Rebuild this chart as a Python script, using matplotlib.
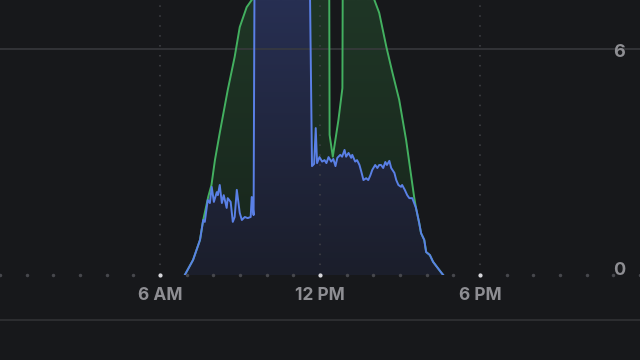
import numpy as np
import matplotlib
matplotlib.use('Agg')
import matplotlib.pyplot as plt
from matplotlib.patches import Polygon
from matplotlib.lines import Line2D
from matplotlib.colors import LinearSegmentedColormap

## data (hours of day, kW)
blue_hours = [6.93, 7.24, 7.50, 7.62, 7.68, 7.79, 7.87, 7.94, 8.02, 8.13, 8.17, 8.24, 8.32, 8.39,
              8.50, 8.54, 8.65, 8.73, 8.80, 8.88, 8.99, 9.07, 9.18, 9.29, 9.40, 9.44, 9.51,
              9.55, 10.2, 10.9, 11.60,
              11.70, 11.78, 11.84, 11.89, 11.98, 12.08, 12.17, 12.24, 12.32, 12.42, 12.50, 12.58,
              12.65, 12.76, 12.83, 12.92, 12.98, 13.07, 13.17, 13.21, 13.32, 13.39, 13.48, 13.55,
              13.63, 13.73, 13.81, 13.89, 13.96, 14.07, 14.15, 14.22, 14.29, 14.37, 14.45, 14.51,
              14.60, 14.67, 14.79, 14.86, 14.94, 15.04, 15.08, 15.18, 15.27, 15.35, 15.46, 15.60,
              15.72, 15.79, 15.91, 15.98, 16.12, 16.24, 16.39, 16.53, 16.62]
blue_values = [0.0, 0.40, 0.93, 1.46, 1.41, 1.99, 1.91, 2.34, 1.94, 2.20, 2.12, 2.39, 1.91, 2.12,
               1.78, 2.04, 1.94, 1.41, 1.54, 2.26, 1.65, 1.46, 1.54, 1.51, 1.54, 2.07, 1.59,
               9.0, 9.2, 9.1, 9.0,
               2.89, 2.95, 3.90, 2.97, 3.13, 3.01, 3.05, 2.97, 3.13, 3.01, 3.08, 2.89,
               3.11, 3.19, 3.14, 3.32, 3.14, 3.24, 3.11, 3.19, 3.01, 3.05, 2.92, 2.74,
               2.52, 2.57, 2.52, 2.65, 2.79, 2.92, 2.84, 2.92, 2.92, 2.84, 3.00, 2.92,
               3.03, 2.84, 2.71, 2.52, 2.39, 2.34, 2.39, 2.26, 2.12, 2.04, 2.04, 1.78,
               1.38, 1.11, 0.93, 0.61, 0.53, 0.35, 0.21, 0.08, 0.0]

green_hours = [6.93, 7.24, 7.50, 7.62, 7.81, 7.93, 8.06, 8.24, 8.54, 8.80, 8.99, 9.25, 9.44,
               9.8, 10.5, 11.2, 12.0, 12.34, 12.36, 12.48, 12.69, 12.84, 12.86, 13.4, 13.8,
               14.04, 14.22, 14.49, 14.71, 14.97, 15.23, 15.53, 15.60,
               15.72, 15.79, 15.91, 15.98, 16.12, 16.24, 16.39, 16.53, 16.62]
green_values = [0.0, 0.40, 0.93, 1.46, 2.08, 2.39, 3.05, 3.77, 4.91, 5.79, 6.58, 7.11, 7.30,
                8.0, 8.9, 9.4, 9.6, 9.6, 3.72, 3.14, 4.11, 4.96, 9.4, 9.0, 8.0,
                7.30, 6.96, 6.05, 5.39, 4.65, 3.58, 2.07, 1.78,
                1.38, 1.11, 0.93, 0.61, 0.53, 0.35, 0.21, 0.08, 0.0]

tick_hours = [6, 12, 18]
tick_labels = ['6 AM', '12 PM', '6 PM']
y_labels = [0, 6]

bg = '#17181b'
ytop = 7.30

fig = plt.figure(figsize=(6.4, 3.6), dpi=100, facecolor=bg)
ax = fig.add_axes([0, 85 / 360, 1, 275 / 360])
ax.set_facecolor(bg)
for s in ax.spines.values():
    s.set_visible(False)
ax.set_xticks([])
ax.set_yticks([])


def gradient_fill(x, y, bottom, top, z):
    pts = np.column_stack([np.r_[x[0], x, x[-1]], np.r_[0, y, 0]])
    patch = Polygon(pts, closed=True, facecolor='none', edgecolor='none')
    ax.add_patch(patch)
    cmap = LinearSegmentedColormap.from_list('g', [bottom, top])
    grad = np.linspace(0, 1, 256).reshape(-1, 1)
    img = ax.imshow(grad, extent=[0, 24, 0, ytop], aspect='auto', origin='lower',
                    cmap=cmap, zorder=z, interpolation='bilinear')
    img.set_clip_path(patch)


gradient_fill(green_hours, green_values, '#18251c', '#1f3626', 1)
gradient_fill(blue_hours, blue_values, '#1b1e2b', '#272f52', 2)

# grid
ax.axhline(6, color='#3a3b3f', lw=1.1, zorder=3)
for h in tick_hours:
    ax.axvline(h, color='#414247', lw=1.1, ls=(0, (1, 5.5)), zorder=3)

ax.plot(green_hours, green_values, color='#43b060', lw=1.4, zorder=4, solid_joinstyle='round')
ax.plot(blue_hours, blue_values, color='#5a80e6', lw=1.4, zorder=5, solid_joinstyle='round')

# baseline dots
hrs = [h for h in range(0, 25) if h not in tick_hours]
ax.plot(hrs, [0] * len(hrs), ls='none', marker='o', ms=1.5, color='#46474c', zorder=6, clip_on=False)
ax.plot(tick_hours, [0] * 3, ls='none', marker='o', ms=2.0, color='#d8d8dc', zorder=6, clip_on=False)

ax.set_xlim(0, 24)
ax.set_ylim(0, ytop)

font = dict(family=['Inter', 'DejaVu Sans'], weight='bold', color='#8e8e93')
for h, lab in zip(tick_hours, tick_labels):
    ax.text(h, -0.073, lab, transform=ax.get_xaxis_transform(), ha='center', va='center',
            fontsize=12.5, **font)
for v in y_labels:
    ax.text(0.977, v - 0.1 if v else v + 0.13, str(v), transform=ax.get_yaxis_transform(),
            ha='right', va='center', fontsize=13, **font)

fig.add_artist(Line2D([0, 1], [1 - 320 / 360] * 2, transform=fig.transFigure,
                      color='#2c2d30', lw=1.5))

fig.savefig('out.png', dpi=100, facecolor=bg)
